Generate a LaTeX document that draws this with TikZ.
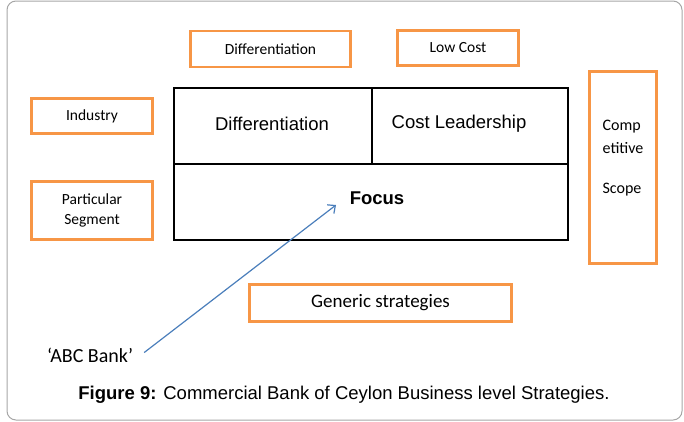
\documentclass[tikz,border=0pt]{standalone}
\usepackage{fontspec}
\setmainfont{Liberation Sans}
\newfontfamily\calib{Carlito}
\usetikzlibrary{arrows.meta}
\definecolor{boxorange}{HTML}{F79646}
\definecolor{arrowblue}{HTML}{4A7EBB}
\definecolor{framegray}{HTML}{A6A6A6}

\begin{document}
\begin{tikzpicture}[x=1pt,y=-1pt,
  obox/.style={draw=boxorange,line width=2.6pt,inner sep=0pt,align=center,
    font=\calib\fontsize{15.5}{20}\selectfont},
  cell/.style={draw=black,line width=1.1pt,inner sep=0pt},
  celltext/.style={font=\fontsize{18.5}{22}\selectfont},
  arr/.style={arrowblue,line width=1.2pt,-{Straight Barb[length=6pt,width=11pt]}}]
  \useasboundingbox (0,0) rectangle (684,421);
  \draw[framegray,line width=1pt,rounded corners=9pt] (7,1) rectangle (682,420);

  % orange labels
  \node[obox,minimum width=160pt,minimum height=36pt] (diffbox) at (270.5,49) {Differentiation};
  \node[obox,minimum width=121pt,minimum height=35pt] (lowcost) at (458,48) {Low Cost};
  \node[obox,minimum width=121pt,minimum height=35pt] (industry) at (92,116) {Industry};
  \node[obox,minimum width=121pt,minimum height=58pt] (segment) at (92,210.5) {Particular\\Segment};
  \node[obox,minimum width=67pt,minimum height=192pt] (scope) at (623,167.5) {};
  \node[obox,draw=none,align=left,font=\calib\fontsize{16}{23}\selectfont] (scopetxt) at (623,158) {Comp\\etitive\\[17pt]Scope};
  \node[obox,minimum width=262pt,minimum height=37pt,font=\calib\fontsize{19}{22}\selectfont] (generic) at (380.5,303) {Generic strategies};

  % strategy grid
  \node[cell,minimum width=198pt,minimum height=76pt] (diffcell) at (273,126) {};
  \node[cell,minimum width=196pt,minimum height=76pt] (costcell) at (470,126) {};
  \node[cell,minimum width=394pt,minimum height=76pt] (focuscell) at (371,202) {};
  \node[celltext] (difftxt) at (272,124) {Differentiation};
  \node[celltext] (costtxt) at (459,124) {Cost Leadership};
  \node[celltext,font=\bfseries\fontsize{18.5}{22}\selectfont] (focustxt) at (377,198) {Focus};

  % the bank
  \node[font=\calib\fontsize{20}{24}\selectfont,inner sep=3pt] (bank) at (90,355) {‘ABC Bank’};
  \coordinate (tip) at (336,205);
  \draw[arr] ([xshift=8pt,yshift=-8pt]bank.north east) -- (tip);

  \node[font=\fontsize{18.5}{22}\selectfont] (caption) at (344,395) {\textbf{Figure 9:} Commercial Bank of Ceylon Business level Strategies.};
\end{tikzpicture}
\end{document}
